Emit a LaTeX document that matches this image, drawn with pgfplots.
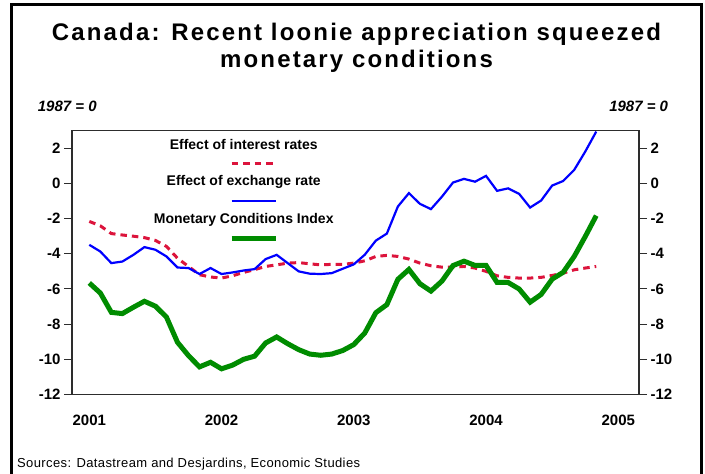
\documentclass[border=0pt]{standalone}
\usepackage{fontspec}
\setmainfont{Liberation Sans}
\newfontfamily\titlefont{Liberation Sans}[LetterSpace=9]
\newfontfamily\srcfont{Liberation Sans}[LetterSpace=3]
\usepackage{pgfplots}
\usepackage{pgfplotstable}
\pgfplotsset{compat=1.18}
\definecolor{mcred}{RGB}{220,20,60}
\definecolor{mcblue}{RGB}{0,0,255}
\definecolor{mcgreen}{RGB}{0,140,0}
\definecolor{axgray}{RGB}{45,45,45}

\pgfplotstableread{
m ir er mci
0 -2.16 -3.49 -5.66
1 -2.41 -3.87 -6.23
2 -2.85 -4.53 -7.33
3 -2.93 -4.44 -7.40
4 -3.00 -4.06 -7.04
5 -3.08 -3.62 -6.70
6 -3.24 -3.77 -6.98
7 -3.58 -4.15 -7.60
8 -4.25 -4.78 -9.03
9 -4.72 -4.81 -9.79
10 -5.19 -5.15 -10.43
11 -5.32 -4.81 -10.17
12 -5.38 -5.15 -10.54
13 -5.25 -5.06 -10.33
14 -5.06 -4.95 -10.00
15 -4.90 -4.87 -9.82
16 -4.72 -4.30 -9.07
17 -4.63 -4.06 -8.73
18 -4.53 -4.53 -9.11
19 -4.50 -5.00 -9.45
20 -4.57 -5.13 -9.70
21 -4.63 -5.15 -9.77
22 -4.60 -5.10 -9.70
23 -4.60 -4.85 -9.50
24 -4.53 -4.60 -9.16
25 -4.40 -4.05 -8.50
26 -4.15 -3.25 -7.35
27 -4.09 -2.85 -6.89
28 -4.15 -1.31 -5.45
29 -4.30 -0.55 -4.89
30 -4.53 -1.16 -5.70
31 -4.68 -1.46 -6.12
32 -4.76 -0.75 -5.55
33 -4.76 0.05 -4.67
34 -4.72 0.26 -4.42
35 -4.81 0.10 -4.66
36 -5.00 0.43 -4.66
37 -5.25 -0.42 -5.63
38 -5.34 -0.28 -5.63
39 -5.38 -0.59 -6.00
40 -5.38 -1.37 -6.75
41 -5.34 -0.97 -6.31
42 -5.23 -0.12 -5.44
43 -5.10 0.14 -5.05
44 -4.91 0.77 -4.15
45 -4.81 1.81 -3.02
46 -4.72 2.95 -1.83
}\datatable

\begin{document}
\begin{tikzpicture}[x=1bp,y=1bp]
\path[use as bounding box] (0,0) rectangle (705,474);
\draw[line width=2.5bp] (11.3,0) -- (11.3,469.3) -- (701.3,469.3) -- (701.3,0);
\node[anchor=base,font=\titlefont\bfseries\fontsize{24bp}{28bp}\selectfont] at (356.5,433.5) {Canada: Recent loonie appreciation squeezed};
\node[anchor=base,font=\titlefont\bfseries\fontsize{24bp}{28bp}\selectfont] at (356.5,406.5) {monetary conditions};
\node[anchor=base west,inner sep=0pt,font=\bfseries\itshape\fontsize{15bp}{18bp}\selectfont] at (37.7,362.3) {1987 = 0};
\node[anchor=base east,inner sep=0pt,font=\bfseries\itshape\fontsize{15bp}{18bp}\selectfont] at (668.3,362.3) {1987 = 0};
\node[anchor=base west,inner sep=0pt,font=\srcfont\fontsize{13bp}{15bp}\selectfont] at (17,6.7) {Sources: Datastream and Desjardins, Economic Studies};

\begin{axis}[
  at={(72bp,79.5bp)}, anchor=south west, scale only axis,
  width=567bp, height=263.8bp,
  xmin=-1.57, xmax=49.88, ymin=-12, ymax=3,
  axis line style={axgray, line width=1.4bp},
  xtick={0,12,24,36,48},
  xticklabels={2001,2002,2003,2004,2005},
  major x tick style={draw=none},
  ytick={-12,-10,-8,-6,-4,-2,0,2},
  yticklabels={-12,-10,-8,-6,-4,-2,0,2},
  ytick pos=both, yticklabel pos=left,
  tick align=outside, major tick length=8bp,
  major y tick style={axgray, line width=1bp},
  xticklabel style={font=\bfseries\fontsize{15bp}{18bp}\selectfont, yshift=-9bp},
  yticklabel style={font=\bfseries\fontsize{15bp}{18bp}\selectfont},
  clip=false,
]
\addplot[mcred, line width=3bp, dash pattern=on 6.5bp off 5bp] table[x=m,y=ir] {\datatable};
\addplot[mcblue, line width=2.2bp] table[x=m,y=er] {\datatable};
\addplot[mcgreen, line width=5bp] table[x=m,y=mci] {\datatable};
\node[font=\bfseries\fontsize{14bp}{17bp}\selectfont] at (axis cs:14.01,2.24) {Effect of interest rates};
\draw[mcred, line width=3bp, dash pattern=on 6.5bp off 5bp] (axis cs:12.92,1.15) -- (axis cs:16.94,1.15);
\node[font=\bfseries\fontsize{14bp}{17bp}\selectfont] at (axis cs:14.01,0.07) {Effect of exchange rate};
\draw[mcblue, line width=2.2bp] (axis cs:12.92,-0.99) -- (axis cs:16.94,-0.99);
\node[font=\bfseries\fontsize{14bp}{17bp}\selectfont] at (axis cs:14.01,-2.07) {Monetary Conditions Index};
\draw[mcgreen, line width=5bp] (axis cs:12.92,-3.15) -- (axis cs:16.94,-3.15);
\end{axis}
\begin{axis}[
  at={(72bp,79.5bp)}, anchor=south west, scale only axis,
  width=567bp, height=263.8bp,
  xmin=-1.57, xmax=49.88, ymin=-12, ymax=3,
  axis line style={draw=none},
  xtick=\empty,
  ytick={-12,-10,-8,-6,-4,-2,0,2},
  yticklabels={-12,-10,-8,-6,-4,-2,0,2},
  ytick pos=right, yticklabel pos=right,
  tick align=outside, major tick length=8bp,
  major y tick style={draw=none},
  yticklabel style={font=\bfseries\fontsize{15bp}{18bp}\selectfont},
]
\end{axis}
\end{tikzpicture}
\end{document}
